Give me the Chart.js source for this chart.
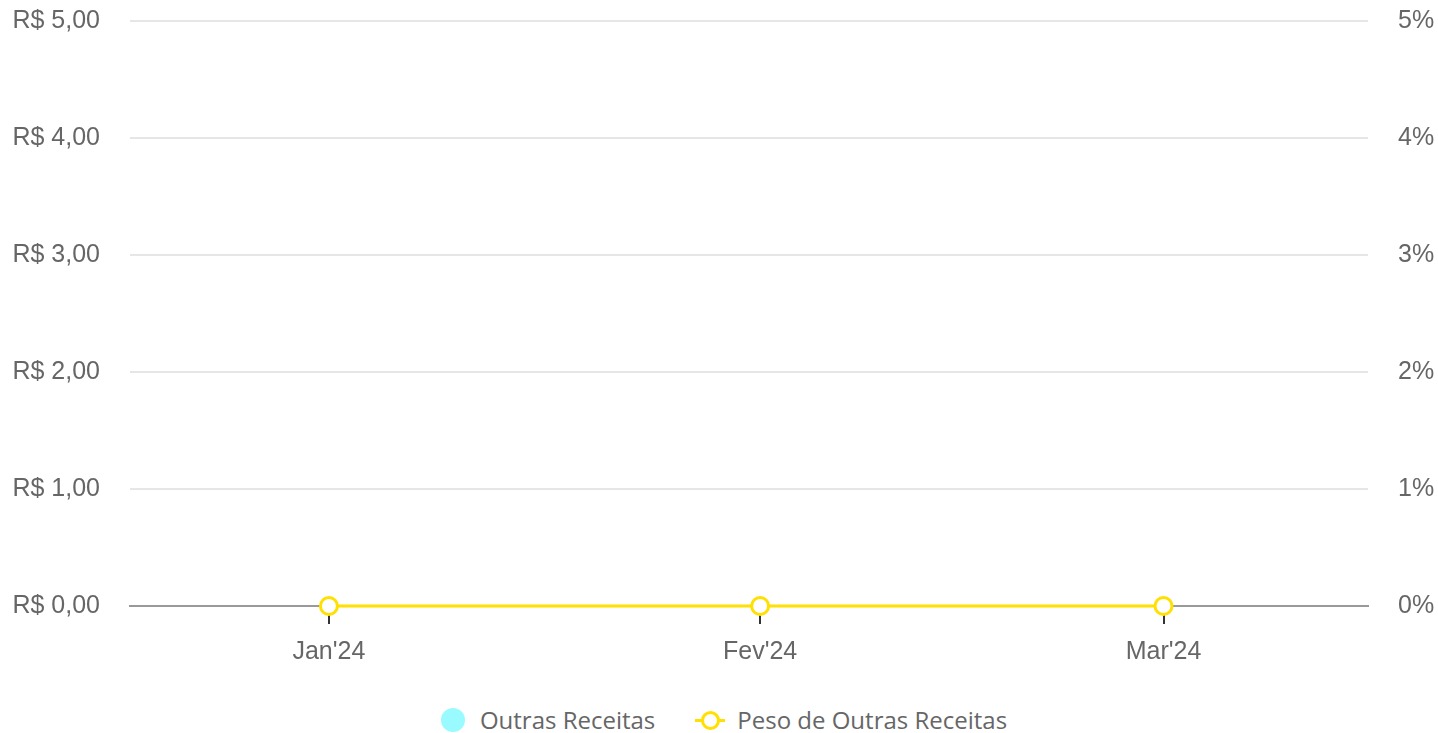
<!DOCTYPE html>
<html>
<head>
<meta charset="utf-8">
<script src="https://cdn.jsdelivr.net/npm/chart.js@4"></script>
<style>
  html, body { margin: 0; padding: 0; background: #fff; overflow: hidden; }
  #wrap { position: relative; width: 1438px; height: 733px; overflow: hidden; }
  #box { position: absolute; left: 0; top: -24px; width: 1438px; height: 711px; }
  #legenda { position: absolute; left: 0; top: 703px; width: 1428px; padding-left: 10px; display: flex;
    justify-content: center; gap: 40px; font-family: "Open Sans", sans-serif; font-size: 24px; color: #666; }
  .item { display: inline-flex; align-items: center; }
  .bola { width: 24px; height: 24px; border-radius: 50%; background: #99fbff; margin-right: 15px; }
  .linha { position: relative; width: 30px; height: 24px; margin-right: 12px; }
  .linha:before { content: ''; position: absolute; left: 0; right: 0; top: 11px; height: 3px; background: #ffe000; }
  .linha:after { content: ''; position: absolute; left: 6px; top: 3px; width: 13px; height: 13px;
    border: 3px solid #ffe000; border-radius: 50%; background: #fff; }
</style>
</head>
<body>
<div id="wrap">
  <div id="box"><canvas id="grafico"></canvas></div>
  <div id="legenda">
    <span class="item"><span class="bola"></span>Outras Receitas</span>
    <span class="item"><span class="linha"></span>Peso de Outras Receitas</span>
  </div>
</div>
<script>
// dados
const meses = ['2024-01-01', '2024-02-01', '2024-03-01'];
const rotulosMeses = ["Jan'24", "Fev'24", "Mar'24"];
const outrasReceitas = [0, 0, 0];
const pesoOutrasReceitas = [0, 0, 0];

// dias desde 1 de janeiro (eixo temporal simples)
const inicio = Date.UTC(2024, 0, 1);
const dias = meses.map(m => {
  const [a, mm, d] = m.split('-').map(Number);
  return (Date.UTC(a, mm - 1, d) - inicio) / 86400000;
});

const fonteEixo = { family: '"Liberation Sans", Arial, sans-serif', size: 25 };

new Chart(document.getElementById('grafico'), {
  data: {
    datasets: [
      {
        type: 'bar',
        label: 'Outras Receitas',
        data: dias.map((x, i) => ({ x: x, y: outrasReceitas[i] })),
        backgroundColor: '#99fbff',
        yAxisID: 'y',
        order: 2
      },
      {
        type: 'line',
        label: 'Peso de Outras Receitas',
        data: dias.map((x, i) => ({ x: x, y: pesoOutrasReceitas[i] })),
        borderColor: '#ffe000',
        borderWidth: 3,
        backgroundColor: '#fff',
        pointRadius: 8.5,
        pointBorderWidth: 3,
        pointBackgroundColor: '#fff',
        pointBorderColor: '#ffe000',
        clip: false,
        yAxisID: 'y1',
        order: 1
      }
    ]
  },
  options: {
    responsive: true,
    maintainAspectRatio: false,
    animation: false,
    layout: { padding: { top: 0, bottom: 7, left: 0, right: 0 } },
    plugins: { legend: { display: false }, tooltip: { enabled: false } },
    scales: {
      x: {
        type: 'linear',
        min: -14.3,
        max: 74.7,
        offset: false,
        afterBuildTicks: axis => { axis.ticks = dias.map(v => ({ value: v })); },
        ticks: {
          autoSkip: false,
          maxRotation: 0,
          color: '#666',
          font: fonteEixo,
          padding: 13,
          callback: (v) => rotulosMeses[dias.indexOf(v)] ?? ''
        },
        grid: { offset: false, drawOnChartArea: false, tickLength: 18, tickColor: '#333', lineWidth: 2 },
        border: { color: '#999', width: 2 }
      },
      y: {
        position: 'left',
        min: 0,
        max: 5,
        afterFit: s => { s.width = 130; },
        ticks: {
          stepSize: 1,
          color: '#666',
          font: fonteEixo,
          padding: 30,
          callback: v => 'R$ ' + v.toFixed(2).replace('.', ',')
        },
        grid: { color: '#e6e6e6', lineWidth: 2, drawTicks: false },
        border: { display: false }
      },
      y1: {
        position: 'right',
        min: 0,
        max: 5,
        afterFit: s => { s.width = 70; },
        ticks: {
          stepSize: 1,
          color: '#666',
          font: fonteEixo,
          padding: 30,
          callback: v => v + '%'
        },
        grid: { drawOnChartArea: false, drawTicks: false },
        border: { display: false }
      }
    }
  }
});
</script>
</body>
</html>
